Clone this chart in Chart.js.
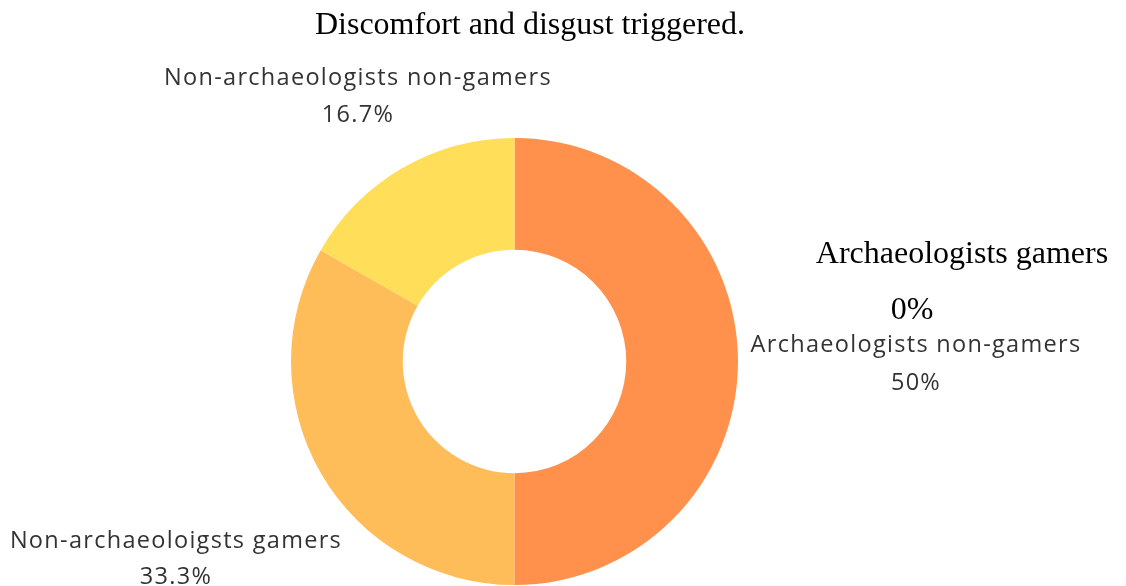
<!DOCTYPE html>
<html>
<head>
<meta charset="utf-8">
<script src="https://cdn.jsdelivr.net/npm/chart.js@4"></script>
<style>
  html, body { margin: 0; padding: 0; background: #ffffff; }
  canvas { display: block; }
</style>
</head>
<body>
<canvas id="chart" width="1126" height="586"></canvas>
<script>
// Groups surveyed and the share of each that reported discomfort/disgust
const groups = ["Archaeologists gamers", "Archaeologists non-gamers", "Non-archaeoloigsts gamers", "Non-archaeologists non-gamers"];
const shares = [0, 50, 33.3, 16.7];
const shareLabels = ["0%", "50%", "33.3%", "16.7%"];
const sliceColors = ["#FF7A3A", "#FF914D", "#FFBD59", "#FFDE59"];

const SERIF = "32px 'Liberation Serif', 'Times New Roman', serif";
const SANS = "23.5px 'Open Sans', 'Noto Sans', sans-serif";

// Where each group's caption sits, and how it is styled
const captionStyle = [
  { x: 962, y: 263, x2: 912, y2: 319, font: SERIF, color: "#000000", spacing: "0px" },
  { x: 916, y: 352, x2: 916, y2: 390, font: SANS, color: "#333333", spacing: "1.3px" },
  { x: 176, y: 548, x2: 176, y2: 584, font: SANS, color: "#333333", spacing: "1.3px" },
  { x: 358, y: 85, x2: 358, y2: 122, font: SANS, color: "#333333", spacing: "1.3px" }
];

const captions = {
  id: "captions",
  afterDraw(chart) {
    const ctx = chart.ctx;
    ctx.save();
    ctx.textAlign = "center";
    ctx.textBaseline = "alphabetic";
    // heading
    ctx.font = SERIF;
    ctx.fillStyle = "#000000";
    ctx.fillText("Discomfort and disgust triggered.", 530, 34);
    groups.forEach((g, i) => {
      const s = captionStyle[i];
      ctx.font = s.font;
      ctx.letterSpacing = s.spacing;
      ctx.fillStyle = s.color;
      ctx.fillText(g, s.x, s.y);
      ctx.fillText(shareLabels[i], s.x2, s.y2);
    });
    ctx.restore();
  }
};

new Chart(document.getElementById("chart"), {
  type: "doughnut",
  data: {
    labels: groups,
    datasets: [{
      data: shares,
      backgroundColor: sliceColors,
      borderWidth: 0
    }]
  },
  options: {
    responsive: false,
    animation: false,
    cutout: "50%",
    layout: { padding: { left: 291, right: 388, top: 138, bottom: 1 } },
    plugins: {
      legend: { display: false },
      tooltip: { enabled: false }
    }
  },
  plugins: [captions]
});
</script>
</body>
</html>
